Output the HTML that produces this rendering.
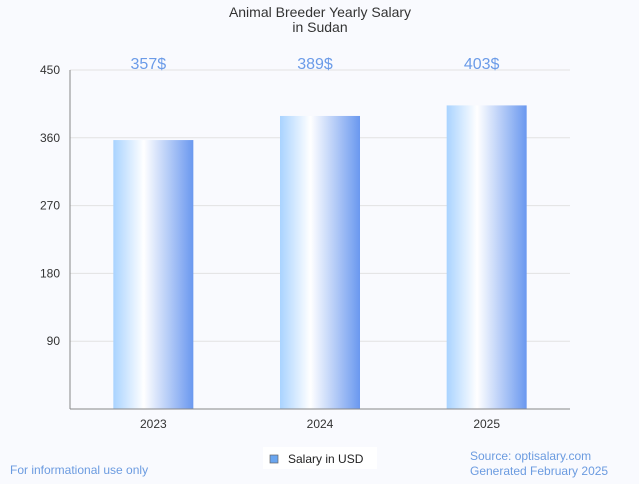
<!DOCTYPE html>
<html><head><meta charset="utf-8"><style>
body{margin:0;background:#f9fafe;font-family:"Liberation Sans",sans-serif;}
</style></head><body>
<svg width="639" height="479" xmlns="http://www.w3.org/2000/svg">
<defs><linearGradient id="g" x1="0" x2="1" y1="0" y2="0">
<stop offset="0" stop-color="#a9d3ff"/><stop offset="0.38" stop-color="#ffffff"/><stop offset="1" stop-color="#6a98ef"/>
</linearGradient></defs>
<rect width="639" height="479" fill="#f9fafe"/>
<text x="320" y="17" text-anchor="middle" font-size="14" fill="#333">Animal Breeder Yearly Salary</text>
<text x="320" y="32" text-anchor="middle" font-size="14" fill="#333">in Sudan</text>
<g id="grid"></g><g id="bars"></g>
<line x1="70" y1="70" x2="70" y2="409" stroke="#888"/>
<line x1="70" y1="409" x2="570" y2="409" stroke="#888"/>
<rect x="263" y="447" width="114" height="22" fill="#fff"/>
<rect x="270" y="455" width="8" height="8" fill="#6aa6f0" stroke="#666" stroke-width="0.7"/>
<text x="288" y="463" font-size="12" fill="#222">Salary in USD</text>
<text x="10" y="474" font-size="12" fill="#6b9be0">For informational use only</text>
<text x="470" y="460" font-size="12" fill="#6b9be0">Source: optisalary.com</text>
<text x="470" y="475" font-size="12" fill="#6b9be0">Generated February 2025</text>
</svg>
<script>
const categories=["2023","2024","2025"];
const values=[357,389,403];
const valueLabels=["357$","389$","403$"];
const yTicks=[90,180,270,360,450];
const NS="http://www.w3.org/2000/svg";
const x0=70,x1=570,yTop=70,yBot=409,yMax=450;
const y=v=>yBot-(v/yMax)*(yBot-yTop);
const band=(x1-x0)/categories.length;
const cx=i=>x0+band*(i+0.5);
function mk(t,a,p){const e=document.createElementNS(NS,t);for(const k in a)e.setAttribute(k,a[k]);p.appendChild(e);return e;}
const grid=document.getElementById('grid'),bars=document.getElementById('bars');
yTicks.forEach(t=>{
 const l=mk('line',{x1:x0,x2:x1,y1:y(t),y2:y(t),stroke:'#e2e2e2'},grid);
 
 
 const tx=mk('text',{x:x0-10,y:y(t)+4,'text-anchor':'end','font-size':12,fill:'#333'},grid);
 
 
 tx.textContent=t;
});
categories.forEach((c,i)=>{
 const r=mk('rect',{x:cx(i)-40,y:y(values[i]),width:80,height:yBot-y(values[i]),fill:'url(#g)'},bars);
 
 
 const vl=mk('text',{x:cx(i)-5,y:69,'text-anchor':'middle','font-size':16,fill:'#6b9be8'},bars);
 
 
 vl.textContent=valueLabels[i];
 const xl=mk('text',{x:cx(i),y:428,'text-anchor':'middle','font-size':12,fill:'#333'},bars);
 
 
 xl.textContent=c;
});
</script>
</body></html>
